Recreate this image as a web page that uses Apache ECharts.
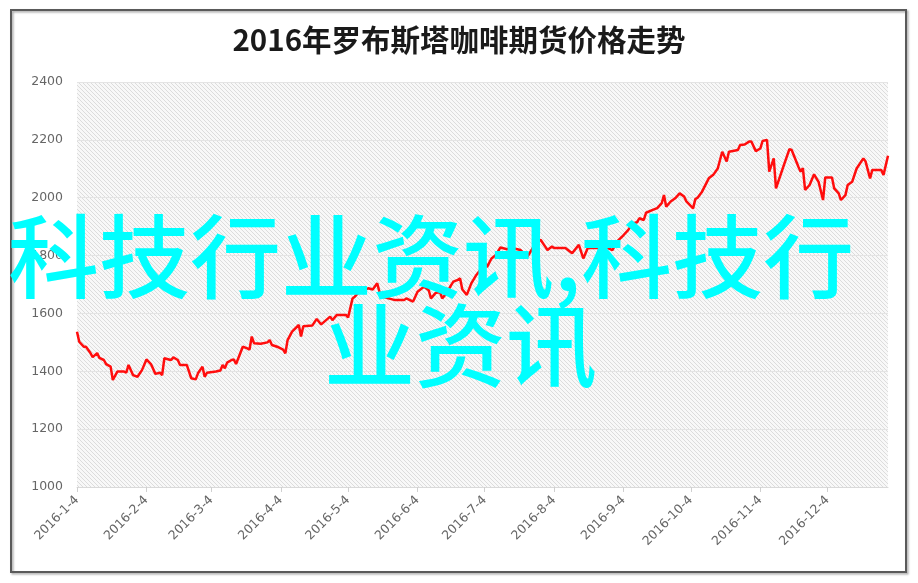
<!DOCTYPE html>
<html>
<head>
<meta charset="utf-8">
<script src="https://cdn.jsdelivr.net/npm/echarts@6/dist/echarts.min.js"></script>
<style>
html,body{margin:0;padding:0;background:#fff;}
#main{width:918px;height:583px;}
</style>
</head>
<body>
<div id="main"></div>
<script>
const titleText = '2016年罗布斯塔咖啡期货价格走势';
const watermarkLine1 = '科技行业资讯,科技行';
const watermarkLine2 = '业资讯';
const tickLabels = ['2016-1-4','2016-2-4','2016-3-4','2016-4-4','2016-5-4','2016-6-4','2016-7-4','2016-8-4','2016-9-4','2016-10-4','2016-11-4','2016-12-4'];
const yTicks = [1000, 1200, 1400, 1600, 1800, 2000, 2200, 2400];
const xRange = ['2016-1-4', '2016-12-31'];

const dates = [
'2016-01-04','2016-01-05','2016-01-07','2016-01-08','2016-01-10','2016-01-11','2016-01-13','2016-01-14','2016-01-16','2016-01-17',
'2016-01-19','2016-01-20','2016-01-22','2016-01-25','2016-01-26','2016-01-27','2016-01-29','2016-01-31','2016-02-02','2016-02-04',
'2016-02-06','2016-02-08','2016-02-10','2016-02-11','2016-02-12','2016-02-14','2016-02-15','2016-02-16','2016-02-18','2016-02-19',
'2016-02-22','2016-02-24','2016-02-26','2016-02-27','2016-02-29','2016-03-01','2016-03-02','2016-03-06','2016-03-08','2016-03-09',
'2016-03-10','2016-03-11','2016-03-13','2016-03-14','2016-03-15','2016-03-16','2016-03-18','2016-03-20','2016-03-21','2016-03-22',
'2016-03-23','2016-03-26','2016-03-29','2016-03-30','2016-03-31','2016-04-03','2016-04-05','2016-04-06','2016-04-07','2016-04-09',
'2016-04-12','2016-04-13','2016-04-14','2016-04-18','2016-04-20','2016-04-22','2016-04-26','2016-04-27','2016-04-29','2016-05-03',
'2016-05-04','2016-05-06','2016-05-07','2016-05-09','2016-05-12','2016-05-13','2016-05-15','2016-05-17','2016-05-18','2016-05-19',
'2016-05-22','2016-05-25','2016-05-29','2016-05-30','2016-06-02','2016-06-03','2016-06-04','2016-06-06','2016-06-07','2016-06-09',
'2016-06-10','2016-06-12','2016-06-14','2016-06-15','2016-06-17','2016-06-19','2016-06-20','2016-06-22','2016-06-23','2016-06-24',
'2016-06-26','2016-06-28','2016-06-30','2016-07-02','2016-07-04','2016-07-05','2016-07-07','2016-07-09','2016-07-11','2016-07-14',
'2016-07-16','2016-07-20','2016-07-23','2016-07-25','2016-07-27','2016-07-29','2016-07-31','2016-08-01','2016-08-03','2016-08-04',
'2016-08-09','2016-08-12','2016-08-15','2016-08-17','2016-08-19','2016-08-23','2016-08-28','2016-08-30','2016-09-01','2016-09-04',
'2016-09-06','2016-09-08','2016-09-10','2016-09-11','2016-09-13','2016-09-14','2016-09-17','2016-09-19','2016-09-21','2016-09-22',
'2016-09-23','2016-09-25','2016-09-27','2016-09-29','2016-10-01','2016-10-02','2016-10-05','2016-10-06','2016-10-07','2016-10-09',
'2016-10-12','2016-10-14','2016-10-16','2016-10-18','2016-10-20','2016-10-21','2016-10-25','2016-10-26','2016-10-28','2016-10-30',
'2016-10-31','2016-11-02','2016-11-04','2016-11-05','2016-11-07','2016-11-08','2016-11-10','2016-11-11','2016-11-14','2016-11-17',
'2016-11-18','2016-11-21','2016-11-22','2016-11-23','2016-11-24','2016-11-26','2016-11-28','2016-11-30','2016-12-02','2016-12-03',
'2016-12-06','2016-12-07','2016-12-09','2016-12-10','2016-12-12','2016-12-13','2016-12-15','2016-12-17','2016-12-20','2016-12-21',
'2016-12-23','2016-12-24','2016-12-28','2016-12-29','2016-12-31'
];
const prices = [
1537,1502,1485,1485,1463,1449,1463,1446,1439,1425,
1416,1370,1399,1399,1395,1422,1387,1381,1404,1441,
1425,1391,1395,1387,1445,1441,1439,1448,1439,1422,
1422,1376,1372,1393,1416,1381,1395,1399,1403,1422,
1410,1430,1439,1441,1425,1445,1485,1479,1475,1520,
1497,1495,1500,1508,1491,1483,1475,1462,1508,1537,
1560,1520,1556,1558,1581,1562,1589,1577,1595,1595,
1586,1652,1658,1675,1683,1687,1683,1704,1675,1658,
1652,1646,1646,1652,1641,1658,1675,1687,1692,1680,
1652,1670,1675,1652,1670,1698,1710,1716,1721,1683,
1664,1704,1730,1750,1779,1760,1790,1802,1828,1822,
1826,1819,1796,1820,1848,1854,1831,1819,1831,1826,
1826,1808,1837,1790,1826,1826,1826,1819,1848,1871,
1888,1911,1915,1929,1923,1948,1958,1964,1981,2009,
1969,1987,1998,2015,2004,1987,1963,1995,2000,2021,
2067,2079,2101,2159,2125,2159,2165,2182,2184,2194,
2194,2161,2170,2196,2200,2090,2136,2032,2101,2168,
2165,2107,2090,2102,2027,2044,2081,2055,1992,2070,
2070,2032,2015,1992,2009,2044,2055,2101,2136,2125,
2067,2096,2096,2079,2145
];

function toTime(s) {
  const p = s.split('-').map(Number);
  return new Date(p[0], p[1] - 1, p[2]).getTime();
}
const tickValues = tickLabels.map(toTime);
const labelByTime = {};
tickLabels.forEach((l, i) => { labelByTime[tickValues[i]] = l; });

// hatch pattern for plot background
const pc = document.createElement('canvas');
pc.width = 4; pc.height = 4;
const g = pc.getContext('2d');
g.fillStyle = '#f8f8f8';
g.fillRect(0, 0, 4, 4);
g.strokeStyle = '#dcdcdc';
g.lineWidth = 1;
g.beginPath();
g.moveTo(-1, -1); g.lineTo(5, 5);
g.moveTo(-1, 3); g.lineTo(1, 5);
g.moveTo(3, -1); g.lineTo(5, 1);
g.stroke();

const chart = echarts.init(document.getElementById('main'), null, {renderer: 'canvas'});
const option = {
  backgroundColor: '#ffffff',
  animation: false,
  title: {
    text: titleText,
    left: 'center',
    top: 20,
    textStyle: {
      fontFamily: 'Noto Sans CJK SC',
      fontSize: 29.5,
      fontWeight: 'bold',
      color: '#1a1a1a'
    }
  },
  grid: {
    left: 77, right: 30, top: 82, bottom: 96,
    show: true,
    borderWidth: 0,
    backgroundColor: {image: pc, repeat: 'repeat'}
  },
  xAxis: {
    type: 'value',
    min: toTime(xRange[0]),
    max: toTime(xRange[1]),
    splitLine: {show: false},
    axisLine: {show: true, lineStyle: {color: '#d9d9d9', width: 1}},
    axisTick: {show: true, customValues: tickValues, length: 5, lineStyle: {color: '#d0d0d0'}},
    axisLabel: {
      customValues: tickValues,
      rotate: 45,
      margin: 11,
      fontFamily: 'DejaVu Sans',
      fontSize: 12.5,
      color: '#666',
      formatter: function (v) {
        return labelByTime[v] !== undefined ? labelByTime[v] : '';
      }
    }
  },
  yAxis: {
    type: 'value',
    min: yTicks[0],
    max: yTicks[yTicks.length - 1],
    interval: 200,
    axisLine: {show: false},
    axisTick: {show: false},
    splitLine: {show: true, lineStyle: {color: '#e4e4e4', width: 1}},
    axisLabel: {
      margin: 14,
      fontFamily: 'DejaVu Sans',
      fontSize: 12.5,
      color: '#666',
      formatter: function (v) { return String(v); }
    }
  },
  series: [{
    type: 'line',
    data: dates.map((d, i) => [toTime(d), prices[i]]),
    showSymbol: false,
    symbol: 'none',
    lineStyle: {color: '#ff0d0d', width: 2.5},
    z: 3
  }],
  graphic: [
    {
      type: 'rect',
      z: 1,
      silent: true,
      shape: {x: 11, y: 10, width: 895, height: 562},
      style: {fill: 'none', stroke: '#5a5a5a', lineWidth: 2,
              shadowColor: 'rgba(0,0,0,0.35)', shadowBlur: 2, shadowOffsetX: 1.5, shadowOffsetY: 1.5}
    },
    {
      type: 'text',
      z: 100,
      silent: true,
      x: 8, y: 256,
      style: {text: watermarkLine1, fill: '#00ffff', fontSize: 91, fontWeight: 500,
              fontFamily: 'Noto Sans CJK SC', verticalAlign: 'middle', align: 'left'}
    },
    {
      type: 'text',
      z: 100,
      silent: true,
      x: 324, y: 345,
      style: {text: watermarkLine2, fill: '#00ffff', fontSize: 91, fontWeight: 500,
              fontFamily: 'Noto Sans CJK SC', verticalAlign: 'middle', align: 'left'}
    }
  ]
};
chart.setOption(option);
</script>
</body>
</html>
